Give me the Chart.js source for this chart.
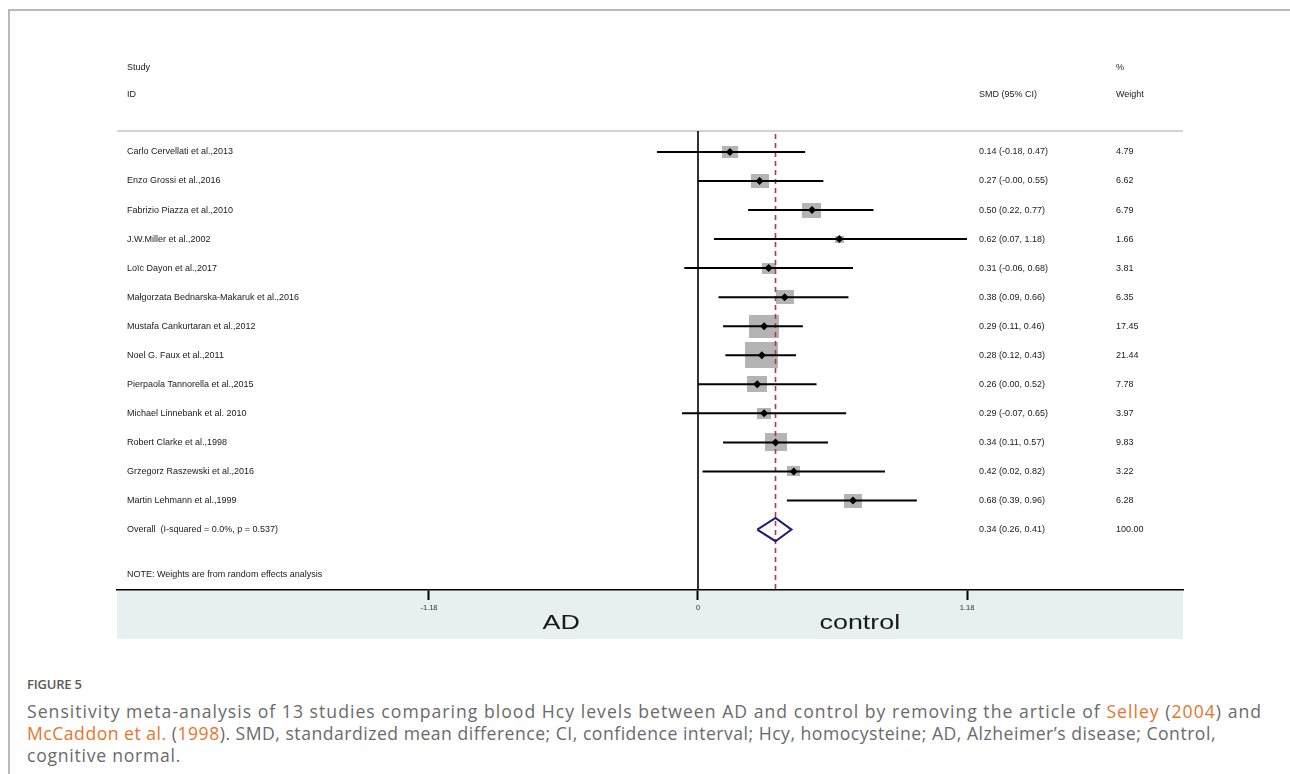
<!DOCTYPE html>
<html>
<head>
<meta charset="utf-8">
<script src="https://cdn.jsdelivr.net/npm/chart.js@4.4.1/dist/chart.umd.min.js"></script>
<style>
  html, body { margin: 0; padding: 0; background: #fff; }
  body { width: 1290px; height: 774px; overflow: hidden; position: relative; }
  #frameTop { position: absolute; left: 9px; top: 9px; width: 1281px; height: 0; border-top: 2px solid #b9b9b9; }
  #frameLeft { position: absolute; left: 8px; top: 9px; width: 0; height: 765px; border-left: 2px solid #b9b9b9; }
  #wrap { position: absolute; left: 0; top: 0; width: 1290px; height: 650px; }
  #figlabel { position: absolute; left: 27px; top: 674px; line-height: 20px; font-family: "Open Sans", Lato, sans-serif; font-weight: 600; font-size: 13px; color: #5a5a5a; letter-spacing: -0.2px; }
  #cap { position: absolute; left: 27px; top: 700px; font-family: "Open Sans", Lato, sans-serif; font-size: 17.6px; line-height: 22px; color: #6a6a6a; }
  #cap .ln { white-space: nowrap; display: block; }
  #cap .ln > span.t { display: inline-block; }
  .o { color: #e8742a; }
</style>
</head>
<body>
<div id="frameTop"></div>
<div id="frameLeft"></div>
<div id="wrap"><canvas id="c" width="1290" height="650"></canvas></div>
<div id="figlabel">FIGURE 5</div>
<div id="cap">
  <div class="ln"><span class="t" data-w="1235">Sensitivity meta-analysis of 13 studies comparing blood Hcy levels between AD and control by removing the article of <span class="o">Selley</span> (<span class="o">2004</span>) and</span></div>
  <div class="ln"><span class="t" data-w="1189"><span class="o">McCaddon et al.</span> (<span class="o">1998</span>). SMD, standardized mean difference; CI, confidence interval; Hcy, homocysteine; AD, Alzheimer’s disease; Control,</span></div>
  <div class="ln"><span class="t" data-w="154">cognitive normal.</span></div>
</div>
<script>
// ---------------- data ----------------
const studyNames = [
  'Carlo Cervellati et al.,2013',
  'Enzo Grossi et al.,2016',
  'Fabrizio Piazza et al.,2010',
  'J.W.Miller et al.,2002',
  'Loïc Dayon et al.,2017',
  'Małgorzata Bednarska-Makaruk et al.,2016',
  'Mustafa Cankurtaran et al.,2012',
  'Noel G. Faux et al.,2011',
  'Pierpaola Tannorella et al.,2015',
  'Michael Linnebank et al. 2010',
  'Robert Clarke et al.,1998',
  'Grzegorz Raszewski et al.,2016',
  'Martin Lehmann et al.,1999'
];
const smd     = [0.14, 0.27, 0.50, 0.62, 0.31, 0.38, 0.29, 0.28, 0.26, 0.29, 0.34, 0.42, 0.68];
const ciLower = [-0.18, -0.00, 0.22, 0.07, -0.06, 0.09, 0.11, 0.12, 0.00, -0.07, 0.11, 0.02, 0.39];
const ciUpper = [0.47, 0.55, 0.77, 1.18, 0.68, 0.66, 0.46, 0.43, 0.52, 0.65, 0.57, 0.82, 0.96];
const weightPct = [4.79, 6.62, 6.79, 1.66, 3.81, 6.35, 17.45, 21.44, 7.78, 3.97, 9.83, 3.22, 6.28];
const overallLabel = 'Overall  (I-squared = 0.0%, p = 0.537)';
const overallSMD = 0.34;
const overallLower = 0.26;
const overallUpper = 0.41;
const overallWeight = 100.00;
const noteText = 'NOTE: Weights are from random effects analysis';
const xTickValues = [-1.18, 0, 1.18];
const sideLabels = ['AD', 'control'];

// ---------------- helpers ----------------
function fmt(v) {
  return (v < 0 || Object.is(v, -0)) ? '-' + Math.abs(v).toFixed(2) : v.toFixed(2);
}
const FONT = '"Liberation Sans", Arial, Helvetica, sans-serif';
const X_MIN = -2.5486, X_MAX = 2.1275;
const Y_MIN = -0.72, Y_MAX = 15.08;
const overallRow = studyNames.length;
const noteRow = 14.55;

// box markers (area ~ weight), drawn as canvas point styles
const boxStyles = weightPct.map(w => {
  const cv = document.createElement('canvas');
  cv.width = Math.max(4, Math.round(7.1 * Math.sqrt(w)));
  cv.height = Math.max(3, Math.round(5.6 * Math.sqrt(w)));
  const g = cv.getContext('2d');
  g.fillStyle = '#b4b4b4';
  g.fillRect(0, 0, cv.width, cv.height);
  return cv;
});

const ciDatasets = smd.map((v, i) => ({
  type: 'scatter',
  data: [{x: ciLower[i], y: i}, {x: ciUpper[i], y: i}],
  showLine: true,
  borderColor: '#000',
  borderWidth: 2,
  pointRadius: 0,
  order: 4
}));

const datasets = [
  { // null line
    type: 'scatter', data: [{x: 0, y: Y_MIN}, {x: 0, y: Y_MAX}],
    showLine: true, borderColor: '#000', borderWidth: 1.6, pointRadius: 0, order: 7
  },
  { // weight boxes
    type: 'scatter', data: smd.map((v, i) => ({x: v, y: i})),
    pointStyle: boxStyles, pointRadius: 5, order: 6
  },
  { // overall effect dashed
    type: 'scatter', data: [{x: overallSMD, y: -0.62}, {x: overallSMD, y: Y_MAX}],
    showLine: true, borderColor: '#ad3a4a', borderWidth: 1.6, borderDash: [5, 4], pointRadius: 0, order: 5
  },
  ...ciDatasets,
  { // overall diamond
    type: 'scatter',
    data: [
      {x: overallLower, y: overallRow},
      {x: overallSMD, y: overallRow - 0.40},
      {x: overallUpper, y: overallRow},
      {x: overallSMD, y: overallRow + 0.40},
      {x: overallLower, y: overallRow}
    ],
    showLine: true, borderColor: '#1c1c78', borderWidth: 2, pointRadius: 0, tension: 0, order: 3
  },
  { // point estimates
    type: 'scatter', data: smd.map((v, i) => ({x: v, y: i})),
    pointStyle: 'rectRot', pointRadius: 4, backgroundColor: '#000', borderColor: '#000', borderWidth: 0, order: 2
  }
];

const bandPlugin = {
  id: 'band',
  beforeDraw(chart) {
    const {ctx, chartArea} = chart;
    ctx.save();
    ctx.fillStyle = '#e8eff1';
    ctx.fillRect(chartArea.left, chartArea.bottom, chartArea.right - chartArea.left, 49);
    ctx.strokeStyle = '#c4c4c4';
    ctx.lineWidth = 1.6;
    ctx.beginPath();
    ctx.moveTo(chartArea.left, chartArea.top);
    ctx.lineTo(chartArea.right, chartArea.top);
    ctx.stroke();
    ctx.restore();
  }
};

const textPlugin = {
  id: 'texts',
  afterDraw(chart) {
    const {ctx, chartArea, scales} = chart;
    const ys = scales.y, xs = scales.x;
    const colStudy = chartArea.left + 10;
    const colSMD = 979, colW = 1116;
    ctx.save();
    ctx.fillStyle = '#1a1a1a';
    ctx.font = '9px ' + FONT;
    ctx.textBaseline = 'middle';
    ctx.textAlign = 'left';
    ctx.fillText('Study', colStudy, chartArea.top - 63);
    ctx.fillText('ID', colStudy, chartArea.top - 36);
    ctx.fillText('SMD (95% CI)', colSMD, chartArea.top - 36);
    ctx.fillText('%', colW, chartArea.top - 63);
    ctx.fillText('Weight', colW, chartArea.top - 36);
    studyNames.forEach((n, i) => {
      const y = ys.getPixelForValue(i);
      ctx.fillText(n, colStudy, y);
      ctx.fillText(fmt(smd[i]) + ' (' + fmt(ciLower[i]) + ', ' + fmt(ciUpper[i]) + ')', colSMD, y);
      ctx.fillText(weightPct[i].toFixed(2), colW, y);
    });
    const yo = ys.getPixelForValue(overallRow);
    ctx.fillText(overallLabel, colStudy, yo);
    ctx.fillText(fmt(overallSMD) + ' (' + fmt(overallLower) + ', ' + fmt(overallUpper) + ')', colSMD, yo);
    ctx.fillText(overallWeight.toFixed(2), colW, yo);
    ctx.fillText(noteText, colStudy, ys.getPixelForValue(noteRow));
    ctx.font = '21px ' + FONT;
    ctx.textAlign = 'center';
    ctx.textBaseline = 'alphabetic';
    const pos = [-0.60, 0.71];
    sideLabels.forEach((t, k) => {
      ctx.save();
      ctx.translate(xs.getPixelForValue(pos[k]), chartArea.bottom + 39);
      ctx.scale(1.28, 1);
      ctx.fillText(t, 0, 0);
      ctx.restore();
    });
    ctx.restore();
  }
};

new Chart(document.getElementById('c'), {
  type: 'scatter',
  data: { datasets },
  plugins: [bandPlugin, textPlugin],
  options: {
    responsive: false,
    animation: false,
    events: [],
    layout: { padding: { left: 117, right: 107, top: 131, bottom: 11 } },
    plugins: { legend: { display: false }, tooltip: { enabled: false } },
    scales: {
      x: {
        type: 'linear', min: X_MIN, max: X_MAX,
        afterBuildTicks(axis) { axis.ticks = xTickValues.map(v => ({ value: v })); },
        afterFit(axis) { axis.height = 49; },
        ticks: {
          autoSkip: false, maxRotation: 0, padding: 3,
          font: { family: FONT, size: 7.5 }, color: '#333',
          callback: v => (v === 0 ? '0' : v.toFixed(2))
        },
        grid: { drawOnChartArea: false, drawTicks: true, tickLength: 10, tickColor: '#000', tickWidth: 2 },
        border: { display: true, color: '#000', width: 1.6 }
      },
      y: { type: 'linear', min: Y_MIN, max: Y_MAX, reverse: true, display: false }
    }
  }
});

// fit each caption line to the original line width via letter-spacing
document.querySelectorAll('#cap .t').forEach(el => {
  const target = parseFloat(el.dataset.w);
  const w = el.getBoundingClientRect().width;
  const n = el.textContent.length;
  if (w > 0 && n > 1) {
    el.style.letterSpacing = ((target - w) / n).toFixed(3) + 'px';
  }
});
</script>
</body>
</html>
